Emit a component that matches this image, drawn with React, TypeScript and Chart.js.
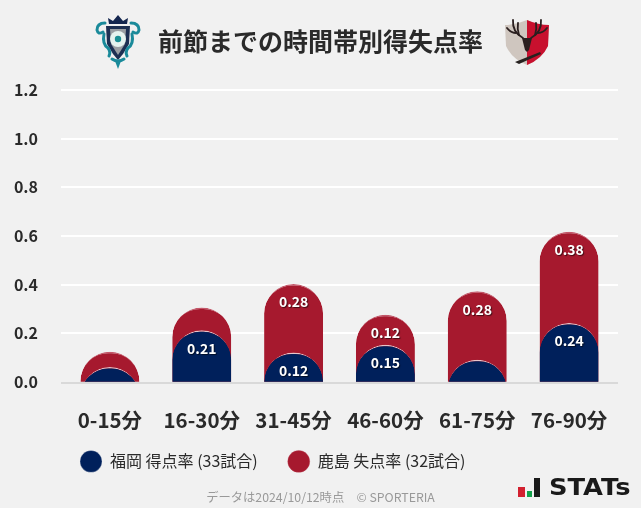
import React, { useEffect, useRef } from "react";
import { Chart, registerables } from "chart.js";

Chart.register(...registerables);

const categories = ["0-15分", "16-30分", "31-45分", "46-60分", "61-75分", "76-90分"];
const fukuokaScored = [0.061, 0.212, 0.121, 0.152, 0.091, 0.242];
const kashimaConceded = [0.063, 0.094, 0.281, 0.124, 0.281, 0.375];
const yTicks = [0, 0.2, 0.4, 0.6, 0.8, 1.0, 1.2];
const seriesNames = ["福岡 得点率 (33試合)", "鹿島 失点率 (32試合)"];
const titleText = "前節までの時間帯別得失点率";
const footerText = "データは2024/10/12時点　© SPORTERIA";

const NAVY = "#00205b";
const CRIMSON = "#a6192e";
const BG = "#f1f1f1";
const INK = "#2a2a2a";
const FONT = '"Noto Sans CJK JP", "Noto Sans", sans-serif';
const BELOW_AXIS = -0.3;

const placeLegendPlugin = {
  id: "placeLegend",
  afterLayout(chart: any) {
    chart.legend.left = 50;
    chart.legend.top = 423.4;
  },
};

const gridPlugin = {
  id: "extendedGrid",
  beforeDatasetsDraw(chart: any) {
    const { ctx, chartArea, scales } = chart;
    ctx.save();
    yTicks.forEach((t) => {
      if (t === 0) return;
      const y = Math.round(scales.y.getPixelForValue(t));
      ctx.fillStyle = "#ffffff";
      ctx.fillRect(chartArea.left - 3, y - 1, chartArea.right - chartArea.left + 6, 2);
    });
    const y0 = Math.round(scales.y.getPixelForValue(0));
    ctx.fillStyle = "#d9d9d9";
    ctx.fillRect(chartArea.left - 3, y0, chartArea.right - chartArea.left + 6, 2);
    ctx.restore();
  },
};

const labelPlugin = {
  id: "barLabels",
  afterDatasetsDraw(chart: any) {
    const { ctx, scales } = chart;
    ctx.save();
    ctx.font = `bold 14px ${FONT}`;
    ctx.textAlign = "center";
    ctx.textBaseline = "middle";
    ctx.fillStyle = "#ffffff";
    ctx.shadowColor = "rgba(0,0,0,0.6)";
    ctx.shadowBlur = 1;
    ctx.shadowOffsetX = 1;
    ctx.shadowOffsetY = 1;
    categories.forEach((_, i) => {
      const x = scales.x.getPixelForValue(i);
      const b = fukuokaScored[i];
      const r = kashimaConceded[i];
      if (b >= 0.1) ctx.fillText(b.toFixed(2), x, scales.y.getPixelForValue(b) + 18);
      if (r >= 0.1) ctx.fillText(r.toFixed(2), x, scales.y.getPixelForValue(b + r) + 18);
    });
    ctx.restore();
  },
};

function ClubLogos() {
  return (
    <>
      <svg style={{ position: "absolute", left: 95, top: 14, width: 46, height: 56 }} viewBox="0 0 46 56">
        <path d="M14 10 L13 4 L18 7 L23 1 L28 7 L33 4 L32 10 Z" fill="#14264f" />
        <path d="M11 12 H35 L34 30 L28 40 L23 46 L18 40 L12 30 Z" fill="#1d2f52" />
        <path d="M15 15 H31 L30 30 L23 41 L16 30 Z" fill="#9a9ea3" />
        <g fill="none" stroke="#1a8a9a" strokeWidth="3" strokeLinecap="round">
          <path d="M10 9 Q2 9 2 16 Q3 21 8 18" />
          <path d="M36 9 Q44 9 44 16 Q43 21 38 18" />
          <path d="M9 20 Q7 30 13 34 Q16 38 14 42" />
          <path d="M37 20 Q39 30 33 34 Q30 38 32 42" />
          <path d="M17 45 Q23 49 29 45" />
        </g>
        <path d="M20 47 L23 55 L26 47 Z" fill="#1a8a9a" />
        <circle cx="23" cy="25" r="8" fill="#e6f3ef" />
        <circle cx="23" cy="25" r="3.2" fill="#1c8f94" />
      </svg>
      <svg style={{ position: "absolute", left: 504, top: 19, width: 46, height: 47 }} viewBox="0 0 46 47">
        <path d="M1 6 Q12 6 23 1 Q34 6 45 6 L44 27 Q38 40 23 46 Q8 40 2 27 Z" fill="#cfc6bf" />
        <path d="M23 1 Q34 6 45 6 L44 27 Q38 40 23 46 Z" fill="#c8102e" />
        <g fill="none" stroke="#2a1f1f" strokeWidth="1.8" strokeLinecap="round">
          <path d="M9 1 Q8 13 19 19" />
          <path d="M3 9 Q7 14 12 14" />
          <path d="M14 4 Q13 10 15 16" />
          <path d="M37 1 Q38 13 27 19" />
          <path d="M43 9 Q39 14 34 14" />
          <path d="M32 4 Q33 10 31 16" />
        </g>
        <path d="M18 19 L28 19 L25 31 L23 33 L21 31 Z" fill="#2a1f1f" />
        <path d="M11 43 L36 33 L37 35 L15 45 Z" fill="#26211f" />
      </svg>
    </>
  );
}

function StatsLogo() {
  return (
    <div style={{ position: "absolute", left: 0, top: 0, width: 641, height: 508, pointerEvents: "none" }}>
      <div style={{ position: "absolute", left: 518, top: 487, width: 7, height: 10, background: "#d2202f" }} />
      <div style={{ position: "absolute", left: 527, top: 491, width: 5, height: 6, background: "#13a14b" }} />
      <div style={{ position: "absolute", left: 534, top: 478, width: 6, height: 19, background: "#1a1a1a" }} />
      <span
        style={{
          position: "absolute",
          left: 549,
          top: 470,
          fontFamily: '"DejaVu Sans", sans-serif',
          fontWeight: 700,
          fontSize: 23,
          lineHeight: "34px",
          color: "#1a1a1a",
          whiteSpace: "nowrap",
          transform: "scaleX(1.12)",
          transformOrigin: "left center",
        }}
      >
        STATs
      </span>
    </div>
  );
}

export default function App() {
  const ref = useRef<HTMLCanvasElement>(null);
  useEffect(() => {
    document.body.style.margin = "0";
    document.body.style.background = BG;
    const arcBorder = { top: 1.5, left: 0, right: 0, bottom: 0 };
    const chart = new Chart(ref.current!, {
      type: "bar",
      data: {
        labels: categories,
        datasets: [
          {
            label: seriesNames[0],
            data: fukuokaScored.map((v) => [BELOW_AXIS, v]),
            backgroundColor: NAVY,
            borderColor: "rgba(255,255,255,0.75)",
            borderWidth: arcBorder,
            borderRadius: 40,
            borderSkipped: false,
            order: 0,
            clip: 0,
          } as any,
          {
            label: seriesNames[1],
            data: kashimaConceded.map((v, i) => [BELOW_AXIS, fukuokaScored[i] + v]),
            backgroundColor: CRIMSON,
            borderColor: "rgba(190,70,90,0.9)",
            borderWidth: arcBorder,
            borderRadius: 40,
            borderSkipped: false,
            order: 1,
            clip: 0,
          } as any,
        ],
      },
      options: {
        animation: false,
        responsive: false,
        maintainAspectRatio: false,
        layout: { padding: 0 },
        datasets: { bar: { grouped: false, categoryPercentage: 1, barPercentage: 0.642 } } as any,
        scales: {
          x: {
            grid: { display: false },
            border: { display: false },
            afterFit: (s: any) => {
              s.height = 52.4;
            },
            ticks: { color: INK, font: { family: FONT, size: 20.5, weight: "bold" }, padding: 18, maxRotation: 0 },
          },
          y: {
            min: 0,
            max: 1.2,
            afterFit: (s: any) => {
              s.width = 64;
            },
            afterBuildTicks: (s: any) => {
              s.ticks = yTicks.map((value) => ({ value }));
            },
            grid: { display: false },
            border: { display: false },
            ticks: {
              color: INK,
              font: { family: FONT, size: 16, weight: "bold" },
              padding: 18,
              callback: (v: any) => Number(v).toFixed(1),
            },
          },
          rightGutter: {
            axis: "y",
            type: "linear",
            position: "right",
            grid: { display: false },
            border: { display: false },
            ticks: { display: false },
            afterFit: (s: any) => {
              s.width = 26;
            },
          },
        },
        plugins: {
          tooltip: { enabled: false },
          title: {
            display: true,
            text: titleText,
            color: INK,
            font: { family: FONT, size: 25, weight: "bold" },
            padding: { top: 26, bottom: 34 },
          },
          subtitle: {
            display: true,
            position: "bottom",
            text: footerText,
            color: "#999999",
            font: { family: FONT, size: 12.3, weight: "normal" },
            padding: { top: 0, bottom: 3 },
          },
          legend: {
            position: "bottom",
            align: "start",
            fullSize: false,
            labels: {
              usePointStyle: true,
              pointStyle: "circle",
              pointStyleWidth: 22,
              boxHeight: 15.5,
              color: INK,
              font: { family: FONT, size: 16 },
              padding: 30,
            },
          },
        },
      },
      plugins: [placeLegendPlugin, gridPlugin, labelPlugin],
    } as any);
    return () => chart.destroy();
  }, []);
  return (
    <div style={{ position: "absolute", left: 0, top: 0, width: 641, height: 508, background: BG, overflow: "hidden" }}>
      <canvas ref={ref} width={641} height={508} style={{ display: "block" }} />
      <ClubLogos />
      <StatsLogo />
    </div>
  );
}
